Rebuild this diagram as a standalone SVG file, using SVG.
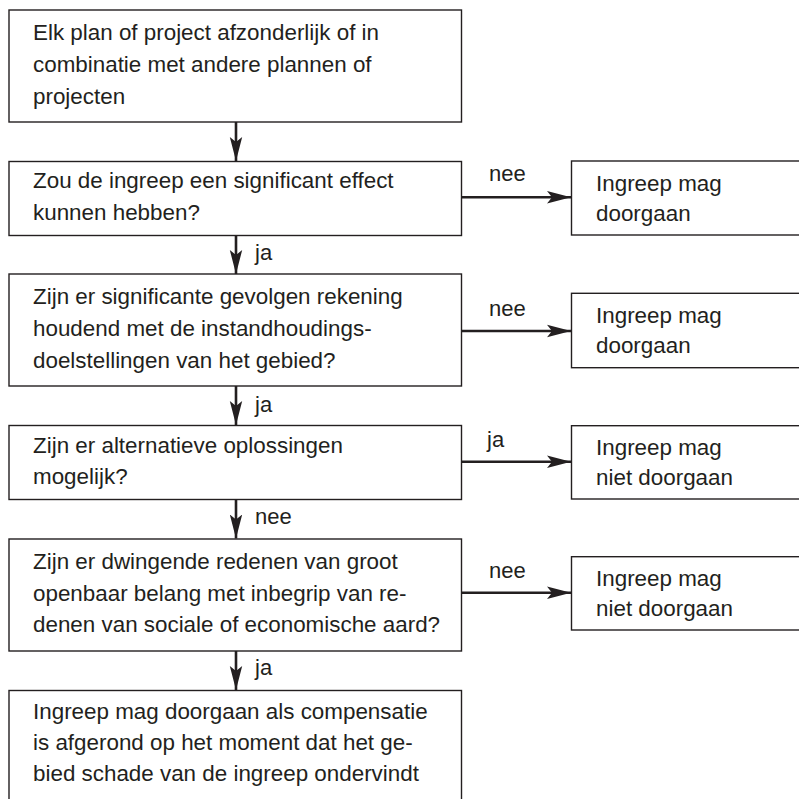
<svg xmlns="http://www.w3.org/2000/svg" width="799" height="799" viewBox="0 0 799 799">
<style>
  .box { fill: #ffffff; stroke: #231f20; stroke-width: 1.4; }
  .t { font-family: "Liberation Sans", Arial, sans-serif; font-size: 22.4px; fill: #231f20; }
  .lbl { font-family: "Liberation Sans", Arial, sans-serif; font-size: 22px; fill: #231f20; }
  .edge { stroke: #231f20; stroke-width: 2.6; fill: none; }
</style>
<defs>
  <marker id="ah" markerUnits="userSpaceOnUse" markerWidth="26" markerHeight="14" refX="24" refY="7" orient="auto">
    <path d="M0,0.8 L24,7 L0,13.2 L5,7 Z" fill="#231f20"/>
  </marker>
</defs>
<rect width="799" height="799" fill="#ffffff"/>

<g id="connectors">
  <line class="edge" x1="236" y1="122" x2="236" y2="161" marker-end="url(#ah)"/>
  <line class="edge" x1="236" y1="235.5" x2="236" y2="274" marker-end="url(#ah)"/>
  <line class="edge" x1="236" y1="386" x2="236" y2="425" marker-end="url(#ah)"/>
  <line class="edge" x1="236" y1="499.5" x2="236" y2="538.5" marker-end="url(#ah)"/>
  <line class="edge" x1="236" y1="651" x2="236" y2="690" marker-end="url(#ah)"/>
  <line class="edge" x1="461.5" y1="197.3" x2="571" y2="197.3" marker-end="url(#ah)"/>
  <line class="edge" x1="461.5" y1="331" x2="571" y2="331" marker-end="url(#ah)"/>
  <line class="edge" x1="461.5" y1="461.7" x2="571" y2="461.7" marker-end="url(#ah)"/>
  <line class="edge" x1="461.5" y1="592.7" x2="571" y2="592.7" marker-end="url(#ah)"/>
  <text class="lbl" x="255" y="260">ja</text>
  <text class="lbl" x="255" y="412">ja</text>
  <text class="lbl" x="255" y="524">nee</text>
  <text class="lbl" x="255" y="675">ja</text>
  <text class="lbl" x="489" y="181">nee</text>
  <text class="lbl" x="489" y="316">nee</text>
  <text class="lbl" x="487" y="447">ja</text>
  <text class="lbl" x="489" y="578">nee</text>
</g>

<g id="n1">
  <rect class="box" x="9" y="10" width="452.5" height="112"/>
  <text class="t" x="33" y="40">Elk plan of project afzonderlijk of in</text>
  <text class="t" x="33" y="72">combinatie met andere plannen of</text>
  <text class="t" x="33" y="104">projecten</text>
</g>
<g id="n2">
  <rect class="box" x="9" y="161.5" width="452.5" height="74"/>
  <text class="t" x="33" y="188">Zou de ingreep een significant effect</text>
  <text class="t" x="33" y="220">kunnen hebben?</text>
</g>
<g id="n3">
  <rect class="box" x="9" y="274" width="452.5" height="112"/>
  <text class="t" x="33" y="304">Zijn er significante gevolgen rekening</text>
  <text class="t" x="33" y="336">houdend met de instandhoudings-</text>
  <text class="t" x="33" y="368">doelstellingen van het gebied?</text>
</g>
<g id="n4">
  <rect class="box" x="9" y="425.5" width="452.5" height="74"/>
  <text class="t" x="33" y="453">Zijn er alternatieve oplossingen</text>
  <text class="t" x="33" y="484">mogelijk?</text>
</g>
<g id="n5">
  <rect class="box" x="9" y="539" width="452.5" height="112"/>
  <text class="t" x="33" y="569">Zijn er dwingende redenen van groot</text>
  <text class="t" x="33" y="600.5">openbaar belang met inbegrip van re-</text>
  <text class="t" x="33" y="632">denen van sociale of economische aard?</text>
</g>
<g id="n6">
  <rect class="box" x="9" y="690.5" width="452.5" height="130"/>
  <text class="t" x="33" y="719">Ingreep mag doorgaan als compensatie</text>
  <text class="t" x="33" y="750">is afgerond op het moment dat het ge-</text>
  <text class="t" x="33" y="781">bied schade van de ingreep ondervindt</text>
</g>
<g id="r1">
  <rect class="box" x="571.5" y="161" width="240" height="74"/>
  <text class="t" x="596" y="191">Ingreep mag</text>
  <text class="t" x="596" y="221">doorgaan</text>
</g>
<g id="r2">
  <rect class="box" x="571.5" y="293.3" width="240" height="74.4"/>
  <text class="t" x="596" y="323">Ingreep mag</text>
  <text class="t" x="596" y="353">doorgaan</text>
</g>
<g id="r3">
  <rect class="box" x="571.5" y="425.7" width="240" height="73.3"/>
  <text class="t" x="596" y="455">Ingreep mag</text>
  <text class="t" x="596" y="485">niet doorgaan</text>
</g>
<g id="r4">
  <rect class="box" x="571.5" y="556.7" width="240" height="73.3"/>
  <text class="t" x="596" y="586">Ingreep mag</text>
  <text class="t" x="596" y="616">niet doorgaan</text>
</g>
</svg>
